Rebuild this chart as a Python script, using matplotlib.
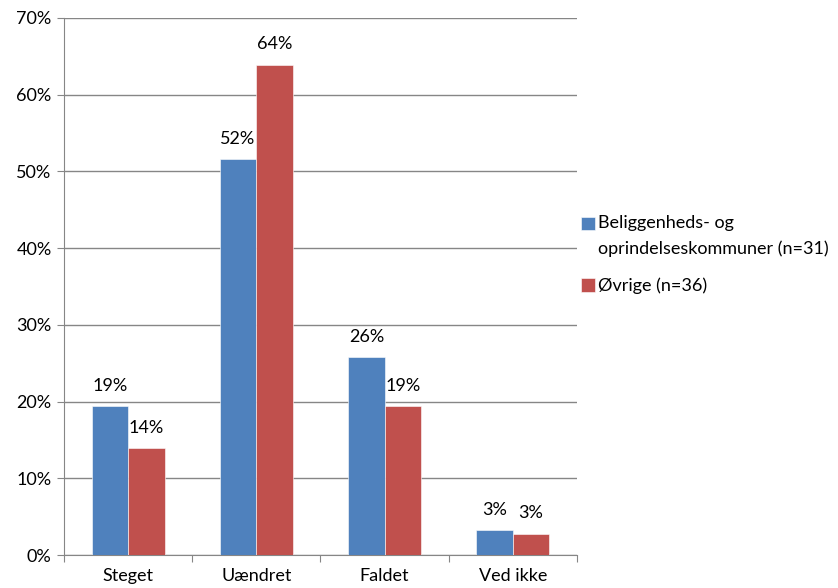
import matplotlib.pyplot as plt
import numpy as np

# Data
categories = ["Steget", "Uændret", "Faldet", "Ved ikke"]
series_names = ["Beliggenheds- og\noprindelseskommuner (n=31)", "Øvrige (n=36)"]
belig = [19.4, 51.6, 25.8, 3.2]
ovrige = [13.9, 63.9, 19.4, 2.8]
colors = ["#4F81BD", "#C0504D"]

plt.rcParams['font.family'] = ['Lato', 'DejaVu Sans']
plt.rcParams['font.size'] = 13

# Init plot
fig = plt.figure(figsize=(8.38, 5.88), dpi=100)
ax = fig.add_axes([0.0764, 0.0561, 0.6121, 0.9133])

x = np.arange(len(categories))
w = 0.285
for i, (vals, name) in enumerate(zip([belig, ovrige], series_names)):
    pos = x + (i - 0.5) * w
    bars = ax.bar(pos, vals, width=w, color=colors[i], edgecolor="white",
                  linewidth=0.4, label=name, zorder=3)
    for b, v in zip(bars, vals):
        ax.annotate(f"{v:.0f}%", (b.get_x() + b.get_width() / 2, v),
                    xytext=(0, 9), textcoords="offset points",
                    ha="center", va="bottom")

# Formatting
ax.set_xlim(-0.5, 3.5)
ax.set_ylim(0, 70)
ax.set_yticks(range(0, 71, 10))
ax.set_yticklabels([f"{t}%" for t in range(0, 71, 10)])
ax.set_xticks(np.arange(-0.5, 3.6, 1))
ax.set_xticklabels([])
ax.set_xticks(x, minor=True)
ax.set_xticklabels(categories, minor=True)
ax.tick_params(axis="x", which="minor", length=0, pad=9)
ax.tick_params(axis="x", which="major", length=5, color="#868686", direction="out")
ax.tick_params(axis="y", length=5, color="#868686", direction="out", pad=4)
ax.grid(axis="y", color="#868686", linewidth=1, zorder=0)
for side in ["top", "right"]:
    ax.spines[side].set_visible(False)
for side in ["left", "bottom"]:
    ax.spines[side].set_color("#868686")

leg = fig.legend(loc="upper left", bbox_to_anchor=(0.674, 0.662), frameon=False,
                 handlelength=0.75, handleheight=0.75, handletextpad=0.2,
                 labelspacing=1.15)
for t in leg.get_texts():
    t.set_linespacing(1.7)
# align the first marker with the first text line, as Excel does
first = leg.get_patches()[0]
first.set_y(first.get_y() + 9)

fig.savefig("out.png", dpi=100)
